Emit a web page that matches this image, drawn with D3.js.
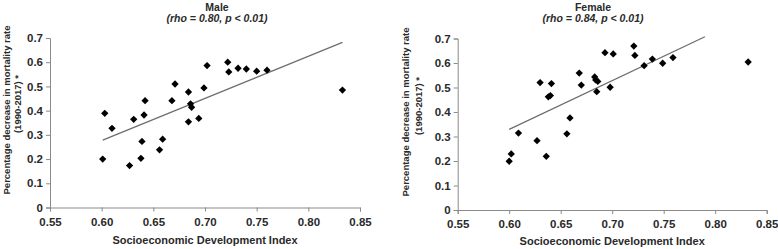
<!DOCTYPE html>
<html><head><meta charset="utf-8">
<script src="https://cdn.jsdelivr.net/npm/d3@7"></script>
<style>
body{margin:0;background:#fff;}
svg{display:block;font-family:"Liberation Sans",Arial,sans-serif;}
</style></head>
<body><svg id="c" width="778" height="249"></svg>
<script>
// SDI values and percentage decrease in mortality rate (1990-2017)
const maleSDI = [0.601,0.603,0.610,0.627,0.631,0.638,0.639,0.641,0.642,0.656,0.659,0.668,0.671,0.684,0.686,0.687,0.684,0.694,0.699,0.702,0.722,0.723,0.732,0.740,0.750,0.760,0.833];
const maleDecrease = [0.200,0.389,0.327,0.173,0.364,0.203,0.273,0.382,0.441,0.238,0.282,0.441,0.510,0.477,0.428,0.414,0.354,0.368,0.494,0.586,0.600,0.560,0.575,0.572,0.563,0.567,0.485];
const femaleSDI = [0.600,0.602,0.609,0.627,0.630,0.636,0.638,0.640,0.641,0.656,0.659,0.668,0.670,0.683,0.684,0.686,0.685,0.693,0.698,0.701,0.721,0.722,0.731,0.739,0.749,0.759,0.832];
const femaleDecrease = [0.199,0.229,0.314,0.283,0.520,0.219,0.462,0.467,0.516,0.311,0.376,0.559,0.510,0.543,0.531,0.525,0.483,0.642,0.501,0.637,0.669,0.631,0.589,0.616,0.599,0.622,0.604];
// fitted trend line end points [SDI, decrease]
const maleTrend = [[0.601,0.278],[0.833,0.682]];
const femaleTrend = [[0.600,0.329],[0.790,0.707]];
const panelTitles = ["Male","Female"];
const panelStats = ["(rho = 0.80, p < 0.01)","(rho = 0.84, p < 0.01)"];
const xTicks = [0.55,0.60,0.65,0.70,0.75,0.80,0.85];
const yTicks = [0,0.1,0.2,0.3,0.4,0.5,0.6,0.7];
const xTitle = "Socioeconomic Development Index";
const yTitle1 = "Percentage decrease in mortality rate";
const yTitle2 = "(1990-2017) *";

const svg = d3.select("#c");
const panels = [
  {x:maleSDI, y:maleDecrease, trend:maleTrend, left:50, right:360, top:38, bottom:207.5, titleX:217, yl1:7, yl2:18, ylCenter:110, xTitleY:244, tickY:224},
  {x:femaleSDI, y:femaleDecrease, trend:femaleTrend, left:457.7, right:766.7, top:38.5, bottom:210, titleX:593, yl1:406, yl2:419, ylCenter:112, xTitleY:245, tickY:227}
];
const textCol = "#2a2a2a";
panels.forEach((p,i)=>{
  const x = d3.scaleLinear().domain([0.55,0.85]).range([p.left,p.right]);
  const y = d3.scaleLinear().domain([0,0.7]).range([p.bottom,p.top]);
  const g = svg.append("g");
  // axes
  const xa = g.append("g").attr("transform",`translate(0,${p.bottom})`)
    .call(d3.axisBottom(x).tickValues(xTicks).tickFormat(d3.format(".2f")).tickSizeOuter(0).tickSize(4).tickPadding(4));
  const ya = g.append("g").attr("transform",`translate(${p.left},0)`)
    .call(d3.axisLeft(y).tickValues(yTicks).tickFormat(d=>d===0?"0":d3.format(".1f")(d)).tickSizeOuter(0).tickSize(4).tickPadding(3));
  [xa,ya].forEach(a=>{
    a.select(".domain").attr("stroke","#8a8a8a").attr("stroke-width",1);
    a.selectAll(".tick line").attr("stroke","#8a8a8a");
    a.selectAll(".tick text").attr("fill",textCol).attr("font-size","11.5px").attr("font-weight","bold")
      .attr("font-family","'Liberation Sans',Arial,sans-serif");
  });
  xa.selectAll(".tick text").attr("dy","0.9em");
  // trend line
  g.append("line")
    .attr("x1",x(p.trend[0][0])).attr("y1",y(p.trend[0][1]))
    .attr("x2",x(p.trend[1][0])).attr("y2",y(p.trend[1][1]))
    .attr("stroke","#6e6e6e").attr("stroke-width",1.3);
  // points
  const sym = d3.symbol().type(d3.symbolDiamond2).size(34);
  g.selectAll("path.pt").data(p.x.map((v,j)=>[v,p.y[j]])).join("path")
    .attr("class","pt").attr("d",sym)
    .attr("transform",d=>`translate(${x(d[0])},${y(d[1])})`)
    .attr("fill","#000");
  // titles
  g.append("text").attr("x",p.titleX).attr("y",11).attr("text-anchor","middle")
    .attr("font-size","10.5px").attr("font-weight","bold").attr("fill",textCol).text(panelTitles[i]);
  g.append("text").attr("x",p.titleX).attr("y",22).attr("text-anchor","middle")
    .attr("font-size","10.5px").attr("font-weight","bold").attr("font-style","italic").attr("fill",textCol).text(panelStats[i]);
  // x title
  g.append("text").attr("x",(p.left+p.right)/2).attr("y",p.xTitleY).attr("text-anchor","middle")
    .attr("font-size","11px").attr("font-weight","bold").attr("fill",textCol).text(xTitle);
  // y title
  g.append("text").attr("transform",`translate(${p.yl1},${p.ylCenter}) rotate(-90)`).attr("text-anchor","middle")
    .attr("dy","0.35em").attr("font-size","9.5px").attr("font-weight","bold").attr("fill",textCol).text(yTitle1);
  g.append("text").attr("transform",`translate(${p.yl2},${p.ylCenter-6}) rotate(-90)`).attr("text-anchor","middle")
    .attr("dy","0.35em").attr("font-size","9.5px").attr("font-weight","bold").attr("fill",textCol).text(yTitle2);
});
</script></body></html>
